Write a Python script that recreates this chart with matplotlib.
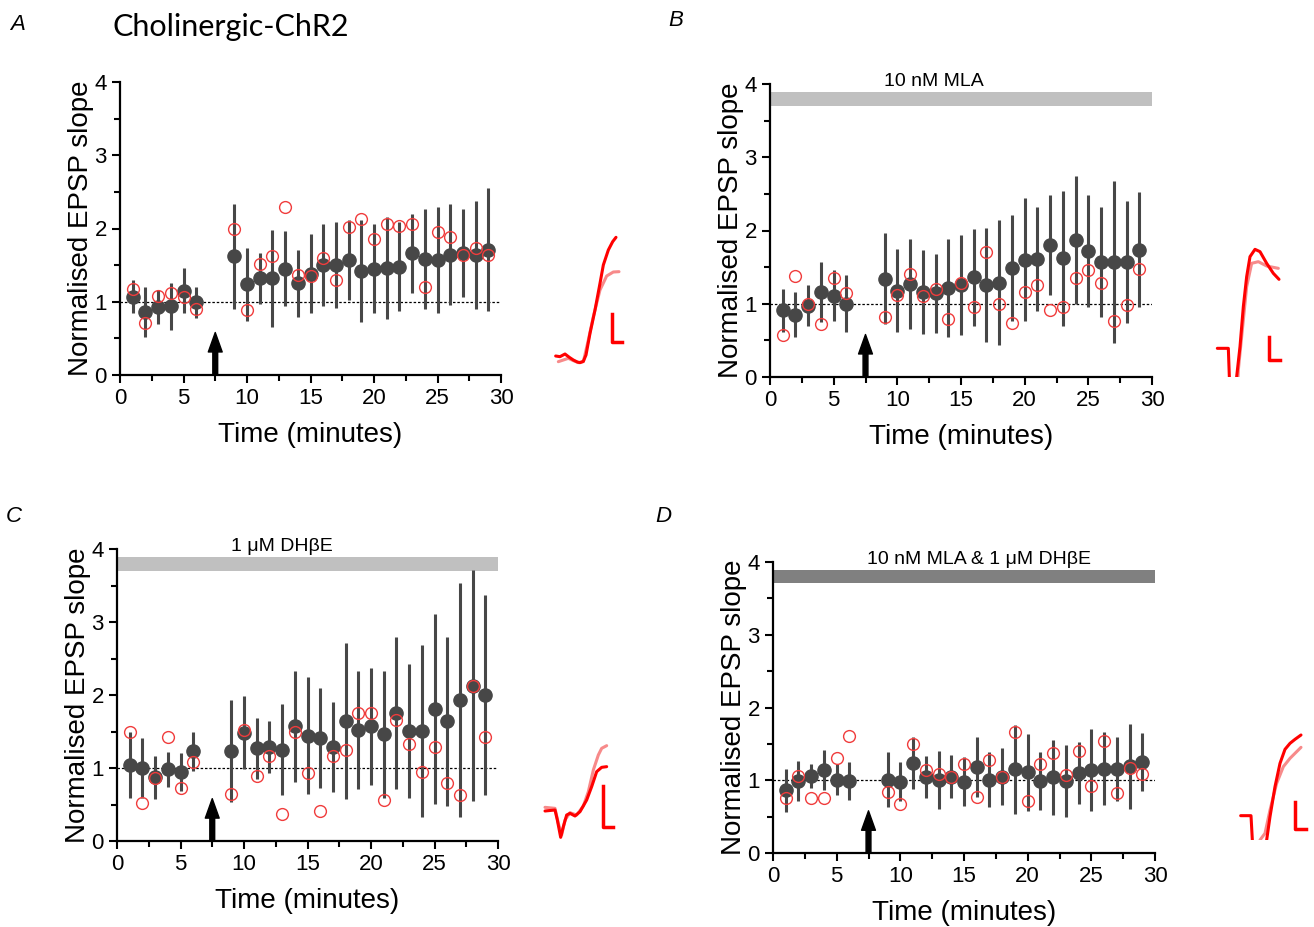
import numpy as np
import matplotlib
matplotlib.use("Agg")
import matplotlib.pyplot as plt
from matplotlib.ticker import MultipleLocator

plt.rcParams['font.family'] = ['Liberation Sans', 'DejaVu Sans']

# time points (minutes), baseline 1-6, after stimulation 9-29
t = [1, 2, 3, 4, 5, 6] + list(range(9, 30))

# panel A: control
a_mean = [1.07, 0.86, 0.93, 0.94, 1.15, 0.99, 1.62, 1.24, 1.32, 1.32, 1.45, 1.25, 1.38,
          1.50, 1.50, 1.57, 1.42, 1.45, 1.46, 1.48, 1.66, 1.58, 1.57, 1.64, 1.67, 1.64, 1.71]
a_sem = [0.23, 0.34, 0.23, 0.32, 0.31, 0.21, 0.72, 0.50, 0.35, 0.66, 0.51, 0.46, 0.54,
         0.56, 0.59, 0.55, 0.69, 0.61, 0.70, 0.61, 0.54, 0.68, 0.72, 0.69, 0.60, 0.74, 0.84]
a_cell = [1.18, 0.71, 1.08, 1.12, 1.06, 0.90, 1.99, 0.89, 1.51, 1.63, 2.30, 1.36, 1.35,
          1.60, 1.30, 2.02, 2.13, 1.86, 2.06, 2.03, 2.06, 1.20, 1.95, 1.89, 1.64, 1.74, 1.64]

# panel B: 10 nM MLA
b_mean = [0.91, 0.85, 0.97, 1.16, 1.11, 1.00, 1.34, 1.18, 1.27, 1.16, 1.14, 1.21, 1.26,
          1.36, 1.26, 1.29, 1.49, 1.60, 1.61, 1.80, 1.62, 1.87, 1.72, 1.57, 1.57, 1.57, 1.74]
b_sem = [0.29, 0.31, 0.28, 0.41, 0.35, 0.39, 0.62, 0.57, 0.62, 0.57, 0.54, 0.67, 0.68,
         0.66, 0.78, 0.85, 0.72, 0.84, 0.71, 0.68, 0.92, 0.88, 0.76, 0.75, 1.10, 0.83, 0.78]
b_cell = [0.57, 1.38, 1.00, 0.72, 1.35, 1.15, 0.82, 1.12, 1.40, 1.11, 1.20, 0.79, 1.28,
          0.96, 1.71, 1.00, 0.74, 1.16, 1.26, 0.92, 0.95, 1.35, 1.46, 1.28, 0.77, 0.98, 1.47]

# panel C: 1 uM DHbE
c_mean = [1.04, 1.00, 0.87, 0.98, 0.95, 1.23, 1.23, 1.48, 1.27, 1.29, 1.25, 1.57, 1.44,
          1.41, 1.29, 1.64, 1.52, 1.57, 1.46, 1.75, 1.51, 1.51, 1.81, 1.64, 1.93, 2.13, 2.00]
c_sem = [0.45, 0.41, 0.29, 0.24, 0.26, 0.27, 0.70, 0.50, 0.42, 0.36, 0.62, 0.76, 0.80,
         0.68, 0.62, 1.07, 0.81, 0.80, 0.87, 1.04, 0.92, 1.18, 1.30, 1.16, 1.60, 1.58, 1.37]
c_cell = [1.49, 0.52, 0.86, 1.42, 0.72, 1.08, 0.65, 1.52, 0.89, 1.16, 0.37, 1.50, 0.93,
          0.41, 1.16, 1.25, 1.76, 1.76, 0.56, 1.66, 1.33, 0.95, 1.29, 0.79, 0.63, 2.13, 1.42]

# panel D: 10 nM MLA & 1 uM DHbE
d_mean = [0.86, 0.99, 1.06, 1.14, 1.01, 0.99, 1.01, 0.98, 1.24, 1.04, 1.00, 1.05, 0.98,
          1.18, 1.01, 1.05, 1.15, 1.11, 0.99, 1.04, 0.99, 1.10, 1.14, 1.16, 1.15, 1.19, 1.25]
d_sem = [0.30, 0.28, 0.17, 0.28, 0.21, 0.26, 0.38, 0.27, 0.36, 0.29, 0.40, 0.30, 0.34,
         0.41, 0.38, 0.39, 0.61, 0.53, 0.40, 0.52, 0.50, 0.43, 0.56, 0.50, 0.44, 0.59, 0.40]
d_cell = [0.76, 1.06, 0.76, 0.76, 1.31, 1.61, 0.84, 0.67, 1.50, 1.14, 1.08, 1.05, 1.23,
          0.77, 1.28, 1.05, 1.66, 0.71, 1.22, 1.37, 1.07, 1.40, 0.92, 1.54, 0.83, 1.17, 1.09]

# example EPSP traces (sample x, sample y in trace units; y grows downward)
trA_x = [47, 60, 75, 88, 100, 112, 120, 130, 138, 150, 165, 180, 190, 205, 218, 228]
trA_y = [408, 410, 402, 412, 420, 426, 428, 424, 405, 340, 270, 190, 135, 90, 65, 52]
trA2_x = [55, 70, 85, 100, 115, 130, 145, 160, 180, 200, 220, 237]
trA2_y = [425, 420, 415, 422, 428, 425, 360, 290, 210, 168, 156, 155]
trB_x = [52, 85, 88, 92, 108, 110, 120, 130, 140, 150, 165, 180, 200, 220, 237]
trB_y = [355, 355, 440, 520, 520, 440, 350, 230, 140, 80, 58, 65, 100, 130, 148]
trB2_x = [110, 115, 125, 140, 155, 175, 200, 235]
trB2_y = [520, 420, 320, 170, 100, 95, 108, 115]
trC_x = [45, 75, 82, 92, 100, 110, 120, 135, 150, 170, 185, 200, 215, 230]
trC_y = [333, 330, 360, 412, 380, 345, 340, 348, 335, 300, 260, 215, 202, 200]
trC2_x = [45, 75, 85, 95, 105, 120, 140, 160, 175, 190, 205, 215, 230]
trC2_y = [322, 325, 370, 405, 360, 338, 345, 318, 275, 210, 165, 145, 137]
trD_x = [62, 93, 97, 100, 138, 140, 150, 165, 180, 195, 210, 225, 243]
trD_y = [287, 287, 360, 420, 420, 360, 290, 200, 130, 88, 70, 58, 45]
trD2_x = [118, 120, 135, 150, 170, 190, 210, 230, 243]
trD2_y = [420, 360, 340, 270, 190, 140, 115, 95, 82]

W, H = 1314, 927
fig = plt.figure(figsize=(W / 100, H / 100), dpi=100)


def box(l, r, top, bot):
    return [l / W, 1 - bot / H, (r - l) / W, (bot - top) / H]


def panel(rect, mean, sem, cell, drug=None, drug_x=13, bar_color='#c0c0c0'):
    ax = fig.add_axes(rect)
    ax.axhline(1, color='black', lw=0.9, ls=(0, (2, 1.5)), zorder=1)
    ax.errorbar(t, mean, yerr=sem, fmt='o', color='#474747', ms=9.5, elinewidth=2.2,
                capsize=0, zorder=2)
    ax.plot(t, cell, 'o', mfc='none', mec='#f03c3c', ms=8.5, mew=1.0, zorder=3)
    ax.annotate('', xy=(7.5, 0.58), xytext=(7.5, 0),
                arrowprops=dict(facecolor='black', edgecolor='black', width=3.5,
                                headwidth=10, headlength=14))
    if drug:
        ax.barh(3.8, 30, left=0, height=0.19, color=bar_color, zorder=1)
        ax.text(drug_x, 3.92, drug, ha='center', va='bottom', fontsize=14)
    ax.set_xlim(0, 30)
    ax.set_ylim(0, 4)
    ax.xaxis.set_major_locator(MultipleLocator(5))
    ax.xaxis.set_minor_locator(MultipleLocator(2.5))
    ax.yaxis.set_major_locator(MultipleLocator(1))
    ax.yaxis.set_minor_locator(MultipleLocator(0.5))
    ax.tick_params(which='major', length=6, width=1.5, labelsize=16)
    ax.tick_params(which='minor', length=4, width=1.5)
    for s in ['top', 'right']:
        ax.spines[s].set_visible(False)
    for s in ['left', 'bottom']:
        ax.spines[s].set_linewidth(1.6)
    ax.set_xlabel('Time (minutes)', fontsize=20, labelpad=9)
    ax.set_ylabel('Normalised EPSP slope', fontsize=20, labelpad=0)
    return ax


def trace(rect, w, ybot, x1, y1, x2, y2, bar):
    ax = fig.add_axes(rect)
    ax.plot(x2, y2, color='#f78a8a', lw=2.2, solid_capstyle='round')
    ax.plot(x1, y1, color='#ff0000', lw=2.2, solid_capstyle='round')
    bx, btop, bbot, bw = bar
    ax.plot([bx, bx, bx + bw], [btop, bbot, bbot], color='#ff0000', lw=2.5)
    ax.set_xlim(0, w * 3)
    ax.set_ylim(ybot, 0)
    ax.axis('off')


panel(box(120, 501, 82, 375), a_mean, a_sem, a_cell)
panel(box(770, 1152, 84, 377), b_mean, b_sem, b_cell, '10 nM MLA', 12.9)
panel(box(117, 498, 549, 841), c_mean, c_sem, c_cell, '1 μM DHβE', 13.0)
panel(box(773, 1155, 562, 853), d_mean, d_sem, d_cell, '10 nM MLA & 1 μM DHβE', 16.2,
      bar_color='#808080')

trace(box(540, 640, 220, 380), 100, 480, trA_x, trA_y, trA2_x, trA2_y, (215, 283, 365, 30))
trace(box(1200, 1310, 230, 377), 110, 441, trB_x, trB_y, trB2_x, trB2_y, (208, 320, 390, 32))
trace(box(530, 630, 700, 850), 100, 450, trC_x, trC_y, trC2_x, trC2_y, (220, 258, 380, 30))
trace(box(1220, 1314, 720, 840), 94, 360, trD_x, trD_y, trD2_x, trD2_y, (225, 245, 328, 32))

for x, y, s in [(18, 25, 'A'), (676, 20, 'B'), (14, 516, 'C'), (663, 517, 'D')]:
    fig.text(x / W, 1 - y / H, s, fontsize=16, style='italic', ha='center', va='center')
fig.text(113 / W, 1 - 27 / H, 'Cholinergic-ChR2', fontsize=22, family='Lato',
         ha='left', va='center')

fig.savefig('out.png', dpi=100)
